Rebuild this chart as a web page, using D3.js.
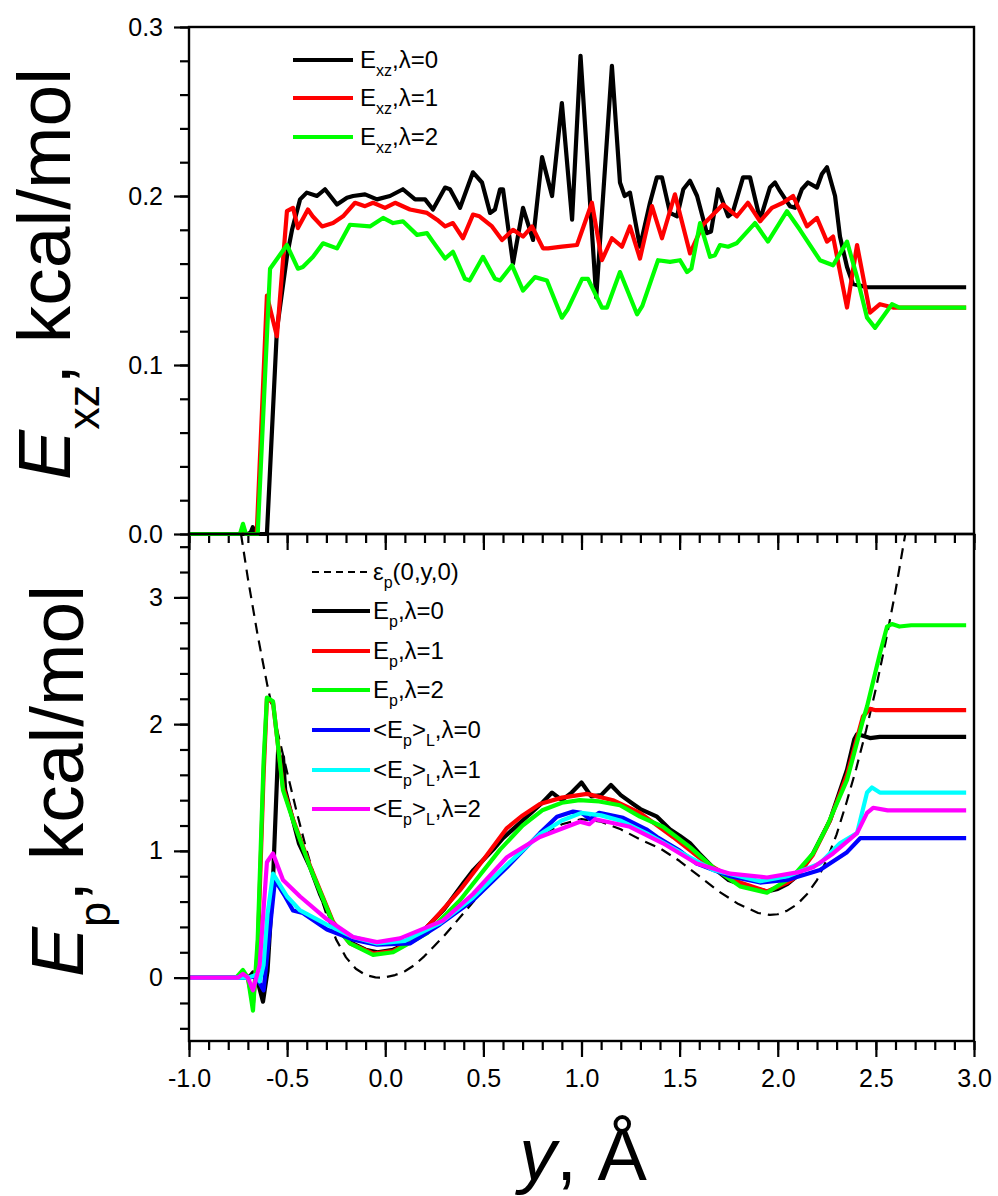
<!DOCTYPE html>
<html>
<head>
<meta charset="utf-8">
<script src="https://cdn.jsdelivr.net/npm/d3@7"></script>
<style>
  html, body { margin: 0; padding: 0; background: #fff; }
  svg { display: block; font-family: "Liberation Sans", Arial, sans-serif; }
</style>
</head>
<body>
<svg id="chart" width="998" height="1196"></svg>
<script>
// ---- Upper panel: E_xz(y) for three lambda values, [y, value] pairs ----
const exzLambda0 = [[-1,0],[-0.7,0],[-0.685,0.001],[-0.675,0.004],[-0.665,0],[-0.603,0],[-0.552,0.121],[-0.5,0.165],[-0.475,0.18],[-0.434,0.198],[-0.40,0.202],[-0.348,0.2],[-0.307,0.204],[-0.246,0.195],[-0.195,0.199],[-0.164,0.2],[-0.103,0.201],[-0.042,0.198],[0.024,0.2],[0.09,0.204],[0.152,0.198],[0.203,0.198],[0.243,0.192],[0.305,0.205],[0.33,0.204],[0.381,0.193],[0.447,0.214],[0.493,0.208],[0.534,0.19],[0.559,0.192],[0.585,0.204],[0.6,0.204],[0.651,0.16],[0.702,0.193],[0.753,0.174],[0.799,0.223],[0.85,0.2],[0.9,0.255],[0.952,0.186],[0.995,0.283],[1.075,0.14],[1.155,0.277],[1.196,0.208],[1.22,0.2],[1.247,0.202],[1.298,0.17],[1.349,0.196],[1.384,0.211],[1.41,0.211],[1.451,0.19],[1.487,0.188],[1.519,0.204],[1.553,0.209],[1.589,0.2],[1.639,0.178],[1.66,0.179],[1.696,0.204],[1.747,0.188],[1.77,0.19],[1.823,0.211],[1.859,0.211],[1.91,0.186],[1.96,0.205],[1.986,0.208],[2.011,0.203],[2.062,0.194],[2.088,0.193],[2.123,0.204],[2.154,0.208],[2.2,0.205],[2.225,0.213],[2.251,0.217],[2.292,0.2],[2.317,0.176],[2.353,0.158],[2.383,0.148],[2.455,0.146],[2.96,0.146]];
const exzLambda1 = [[-1,0],[-0.74,0],[-0.725,0.004],[-0.71,0],[-0.655,0],[-0.603,0.141],[-0.552,0.117],[-0.501,0.191],[-0.47,0.193],[-0.445,0.181],[-0.394,0.192],[-0.37,0.188],[-0.322,0.182],[-0.266,0.184],[-0.215,0.188],[-0.154,0.196],[-0.103,0.194],[-0.062,0.196],[-0.001,0.193],[0.05,0.196],[0.126,0.192],[0.213,0.19],[0.264,0.186],[0.305,0.182],[0.345,0.184],[0.396,0.175],[0.447,0.189],[0.48,0.188],[0.544,0.182],[0.595,0.174],[0.651,0.18],[0.702,0.176],[0.748,0.182],[0.804,0.169],[0.83,0.169],[0.9,0.17],[0.977,0.171],[1.053,0.196],[1.104,0.162],[1.155,0.175],[1.206,0.17],[1.247,0.182],[1.298,0.163],[1.359,0.194],[1.41,0.175],[1.476,0.201],[1.553,0.166],[1.619,0.183],[1.721,0.195],[1.792,0.188],[1.848,0.196],[1.91,0.185],[1.97,0.193],[2.027,0.196],[2.078,0.2],[2.149,0.182],[2.2,0.187],[2.251,0.173],[2.282,0.176],[2.353,0.134],[2.404,0.171],[2.47,0.131],[2.521,0.136],[2.587,0.134],[2.96,0.134]];
const exzLambda2 = [[-1,0],[-0.74,0],[-0.725,0.006],[-0.71,0],[-0.65,0],[-0.587,0.157],[-0.501,0.171],[-0.445,0.157],[-0.42,0.158],[-0.368,0.164],[-0.317,0.172],[-0.246,0.169],[-0.18,0.183],[-0.078,0.182],[-0.011,0.187],[0.04,0.184],[0.09,0.185],[0.162,0.177],[0.213,0.178],[0.243,0.173],[0.305,0.163],[0.345,0.167],[0.406,0.151],[0.43,0.15],[0.498,0.164],[0.559,0.151],[0.585,0.15],[0.646,0.159],[0.702,0.144],[0.763,0.152],[0.824,0.15],[0.9,0.128],[0.93,0.133],[1.003,0.151],[1.033,0.151],[1.104,0.134],[1.13,0.134],[1.196,0.155],[1.283,0.13],[1.31,0.135],[1.39,0.162],[1.451,0.161],[1.502,0.162],[1.538,0.155],[1.56,0.157],[1.604,0.184],[1.655,0.164],[1.68,0.165],[1.706,0.171],[1.747,0.17],[1.79,0.172],[1.884,0.184],[1.95,0.173],[2.047,0.191],[2.113,0.18],[2.215,0.162],[2.282,0.159],[2.353,0.173],[2.404,0.152],[2.455,0.128],[2.496,0.122],[2.582,0.136],[2.62,0.134],[2.96,0.134]];

// ---- Lower panel: potential profile and E_p curves, [y, value] pairs ----
const potentialProfile = [[-0.735,3.5],[-0.7,3.15],[-0.65,2.7],[-0.6,2.3],[-0.55,1.95],[-0.5,1.62],[-0.45,1.3],[-0.4,1.0],[-0.35,0.74],[-0.3,0.5],[-0.25,0.3],[-0.2,0.16],[-0.15,0.07],[-0.1,0.02],[-0.05,0.002],[-0.02,0],[0.0,0.003],[0.05,0.02],[0.1,0.05],[0.15,0.1],[0.2,0.17],[0.25,0.25],[0.3,0.33],[0.35,0.42],[0.4,0.51],[0.5,0.69],[0.6,0.86],[0.7,1.01],[0.8,1.13],[0.9,1.21],[1.0,1.25],[1.1,1.23],[1.2,1.17],[1.3,1.09],[1.4,1.02],[1.5,0.92],[1.6,0.8],[1.7,0.68],[1.8,0.58],[1.9,0.51],[1.96,0.495],[2.0,0.5],[2.05,0.53],[2.1,0.58],[2.15,0.66],[2.2,0.77],[2.25,0.93],[2.3,1.13],[2.35,1.38],[2.4,1.65],[2.45,1.95],[2.5,2.28],[2.55,2.65],[2.6,3.05],[2.65,3.5]];
const epLambda0 = [[-1,0],[-0.72,0],[-0.69,0.01],[-0.674,0.04],[-0.655,0],[-0.623,-0.19],[-0.6,0.05],[-0.572,0.77],[-0.546,1.79],[-0.535,1.72],[-0.521,1.74],[-0.51,1.48],[-0.47,1.24],[-0.44,1.06],[-0.383,0.87],[-0.33,0.65],[-0.266,0.43],[-0.18,0.28],[-0.1,0.22],[-0.04,0.2],[0.04,0.22],[0.1,0.26],[0.2,0.38],[0.3,0.54],[0.4,0.75],[0.45,0.85],[0.5,0.93],[0.55,1.01],[0.6,1.1],[0.65,1.17],[0.7,1.24],[0.75,1.31],[0.8,1.38],[0.85,1.46],[0.9,1.4],[0.95,1.46],[1.0,1.54],[1.05,1.43],[1.1,1.44],[1.15,1.52],[1.2,1.44],[1.263,1.37],[1.3,1.33],[1.385,1.27],[1.45,1.17],[1.5,1.12],[1.553,1.06],[1.6,0.98],[1.67,0.87],[1.75,0.77],[1.84,0.72],[1.945,0.68],[2.0,0.7],[2.05,0.74],[2.098,0.8],[2.18,0.98],[2.266,1.24],[2.353,1.64],[2.39,1.88],[2.404,1.92],[2.43,1.91],[2.47,1.89],[2.52,1.9],[2.96,1.9]];
const epLambda1 = [[-1,0],[-0.74,0],[-0.725,0.04],[-0.7,0],[-0.674,-0.2],[-0.65,0.2],[-0.62,1.6],[-0.603,2.2],[-0.572,2.17],[-0.521,1.5],[-0.47,1.25],[-0.383,0.88],[-0.266,0.44],[-0.18,0.27],[-0.062,0.19],[0.04,0.21],[0.1,0.26],[0.213,0.4],[0.279,0.51],[0.381,0.69],[0.5,0.93],[0.62,1.18],[0.7,1.28],[0.788,1.37],[0.9,1.42],[1.028,1.45],[1.16,1.4],[1.298,1.3],[1.466,1.11],[1.639,0.9],[1.808,0.75],[1.945,0.68],[2.05,0.75],[2.098,0.8],[2.18,0.97],[2.266,1.24],[2.353,1.6],[2.434,2.06],[2.47,2.12],[2.5,2.11],[2.96,2.11]];
const epLambda2 = [[-1,0],[-0.76,0],[-0.725,0.06],[-0.7,0],[-0.674,-0.26],[-0.65,0.3],[-0.62,1.7],[-0.603,2.21],[-0.572,2.18],[-0.521,1.48],[-0.47,1.24],[-0.383,0.87],[-0.266,0.43],[-0.18,0.27],[-0.062,0.18],[0.04,0.2],[0.213,0.35],[0.381,0.61],[0.585,1.01],[0.7,1.2],[0.8,1.32],[0.9,1.38],[0.99,1.4],[1.09,1.39],[1.196,1.36],[1.298,1.27],[1.415,1.19],[1.553,1.03],[1.67,0.87],[1.808,0.72],[1.945,0.67],[2.078,0.8],[2.18,0.98],[2.25,1.19],[2.353,1.56],[2.434,2.03],[2.455,2.14],[2.521,2.56],[2.557,2.77],[2.582,2.79],[2.62,2.77],[2.68,2.78],[2.96,2.78]];
const epAvgLambda0 = [[-1,0],[-0.7,0],[-0.66,0.01],[-0.638,-0.05],[-0.62,-0.1],[-0.6,0.2],[-0.562,0.77],[-0.51,0.64],[-0.47,0.53],[-0.42,0.51],[-0.297,0.38],[-0.164,0.3],[-0.042,0.26],[0.126,0.27],[0.279,0.42],[0.447,0.61],[0.62,0.87],[0.788,1.14],[0.875,1.27],[0.957,1.31],[1.0,1.3],[1.043,1.25],[1.09,1.3],[1.212,1.26],[1.33,1.17],[1.385,1.11],[1.502,1.0],[1.587,0.9],[1.757,0.8],[1.91,0.75],[2.047,0.77],[2.215,0.85],[2.353,0.99],[2.42,1.1],[2.96,1.1]];
const epAvgLambda1 = [[-1,0],[-0.7,0],[-0.66,0.02],[-0.64,-0.03],[-0.62,0.1],[-0.6,0.5],[-0.572,0.82],[-0.5,0.64],[-0.434,0.53],[-0.3,0.42],[-0.164,0.32],[-0.042,0.27],[0.1,0.29],[0.279,0.43],[0.447,0.63],[0.62,0.89],[0.788,1.13],[0.9,1.24],[1.0,1.3],[1.1,1.28],[1.196,1.24],[1.33,1.14],[1.502,0.99],[1.67,0.85],[1.91,0.76],[2.05,0.8],[2.215,0.9],[2.317,1.06],[2.404,1.14],[2.455,1.46],[2.48,1.5],[2.52,1.46],[2.96,1.46]];
const epAvgLambda2 = [[-1,0],[-0.75,0],[-0.725,0.03],[-0.7,0],[-0.674,-0.1],[-0.64,0.1],[-0.603,0.91],[-0.572,0.98],[-0.521,0.77],[-0.434,0.64],[-0.297,0.46],[-0.164,0.32],[-0.042,0.28],[0.075,0.31],[0.294,0.45],[0.447,0.66],[0.62,0.95],[0.788,1.11],[0.992,1.23],[1.04,1.21],[1.07,1.25],[1.247,1.19],[1.415,1.06],[1.587,0.9],[1.757,0.82],[1.945,0.79],[2.1,0.83],[2.18,0.87],[2.282,0.98],[2.404,1.14],[2.455,1.3],[2.486,1.34],[2.56,1.32],[2.96,1.32]];

// ---- Axis ticks ----
const xMajorTicks = [-1.0, -0.5, 0.0, 0.5, 1.0, 1.5, 2.0, 2.5, 3.0];
const topMajorTicks = [0.0, 0.1, 0.2, 0.3];
const bottomMajorTicks = [0, 1, 2, 3];

// ---- Layout ----
const svg = d3.select("#chart");
const left = 189, right = 974;
const topY0 = 27, topY1 = 534, botY0 = 534, botY1 = 1041;
const FONT = "'Liberation Sans', Arial, sans-serif";
const LINE_W = 4.2;

const x = d3.scaleLinear().domain([-1, 3]).range([left, right]);
const yTop = d3.scaleLinear().domain([0, 0.3]).range([topY1, topY0]);
const yBot = d3.scaleLinear().domain([-0.5, 3.5]).range([botY1, botY0]);

const defs = svg.append("defs");
defs.append("clipPath").attr("id", "clipTop").append("rect")
  .attr("x", left).attr("y", topY0 - 2).attr("width", right - left).attr("height", topY1 - topY0 + 4);
defs.append("clipPath").attr("id", "clipBot").append("rect")
  .attr("x", left).attr("y", botY0).attr("width", right - left).attr("height", botY1 - botY0);

function range(a, b, step) {
  const out = [];
  for (let v = a; v <= b + 1e-9; v += step) out.push(+v.toFixed(4));
  return out;
}

function styleAxis(g) {
  g.select(".domain").remove();
  g.selectAll("line").attr("stroke", "#000").attr("stroke-width", 2.2);
  g.selectAll("text").attr("font-family", FONT).attr("font-size", 25).attr("fill", "#000");
}

// x axes: under the upper panel (no labels) and under the lower panel (labelled)
function xAxes(yPos, labelled) {
  svg.append("g").attr("transform", `translate(0,${yPos})`)
    .call(d3.axisBottom(x).tickValues(range(-1, 3, 0.1)).tickSize(9).tickFormat(""))
    .call(styleAxis);
  svg.append("g").attr("transform", `translate(0,${yPos})`)
    .call(d3.axisBottom(x).tickValues(xMajorTicks).tickSize(16).tickPadding(12)
      .tickFormat(labelled ? d3.format(".1f") : ""))
    .call(styleAxis)
    .selectAll("text").text(d => labelled ? d3.format(".1f")(d).replace("−", "-") : "");
}
xAxes(topY1, false);
xAxes(botY1, true);

// y axes
svg.append("g").attr("transform", `translate(${left},0)`)
  .call(d3.axisLeft(yTop).tickValues(range(0, 0.3, 0.02)).tickSize(9).tickFormat(""))
  .call(styleAxis);
svg.append("g").attr("transform", `translate(${left},0)`)
  .call(d3.axisLeft(yTop).tickValues(topMajorTicks).tickSize(15).tickPadding(11).tickFormat(d3.format(".1f")))
  .call(styleAxis);
svg.append("g").attr("transform", `translate(${left},0)`)
  .call(d3.axisLeft(yBot).tickValues(range(-0.4, 3.4, 0.2)).tickSize(9).tickFormat(""))
  .call(styleAxis);
svg.append("g").attr("transform", `translate(${left},0)`)
  .call(d3.axisLeft(yBot).tickValues(bottomMajorTicks).tickSize(15).tickPadding(11).tickFormat(d3.format("d")))
  .call(styleAxis);

// ---- Data lines ----
function drawLine(data, yScale, clip, color, width, dash) {
  const line = d3.line().x(d => x(d[0])).y(d => yScale(d[1]));
  const p = svg.append("path").datum(data)
    .attr("clip-path", `url(#${clip})`)
    .attr("fill", "none").attr("stroke", color).attr("stroke-width", width)
    .attr("stroke-linejoin", "round").attr("stroke-linecap", "butt")
    .attr("d", line);
  if (dash) p.attr("stroke-dasharray", dash);
}

drawLine(exzLambda0, yTop, "clipTop", "#000000", LINE_W);
drawLine(exzLambda1, yTop, "clipTop", "#ff0000", LINE_W);
drawLine(exzLambda2, yTop, "clipTop", "#00ff00", LINE_W);

drawLine(potentialProfile, yBot, "clipBot", "#000000", 2.2, "11,7");
drawLine(epLambda0, yBot, "clipBot", "#000000", LINE_W);
drawLine(epLambda1, yBot, "clipBot", "#ff0000", LINE_W);
drawLine(epLambda2, yBot, "clipBot", "#00ff00", LINE_W);
drawLine(epAvgLambda0, yBot, "clipBot", "#0000ff", LINE_W);
drawLine(epAvgLambda1, yBot, "clipBot", "#00ffff", LINE_W);
drawLine(epAvgLambda2, yBot, "clipBot", "#ff00ff", LINE_W);

// ---- Panel frames ----
svg.append("rect").attr("x", left).attr("y", topY0).attr("width", right - left).attr("height", topY1 - topY0)
  .attr("fill", "none").attr("stroke", "#000").attr("stroke-width", 2.4);
svg.append("rect").attr("x", left).attr("y", botY0).attr("width", right - left).attr("height", botY1 - botY0)
  .attr("fill", "none").attr("stroke", "#000").attr("stroke-width", 2.4);

// ---- Rich text with subscripts ----
function richText(g, parts, size, subSize, shift) {
  const t = g.append("text").attr("font-family", FONT).attr("font-size", size).attr("fill", "#000");
  let cur = 0;
  parts.forEach(p => {
    const want = p.sub ? shift : 0;
    const ts = t.append("tspan").text(p.t).attr("dy", want - cur);
    if (p.sub) ts.attr("font-size", subSize);
    if (p.italic) ts.attr("font-style", "italic");
    cur = want;
  });
  return t;
}

// Legends
const topLegend = [
  { color: "#000000", parts: [{t: "E"}, {t: "xz", sub: true}, {t: ",λ=0"}] },
  { color: "#ff0000", parts: [{t: "E"}, {t: "xz", sub: true}, {t: ",λ=1"}] },
  { color: "#00ff00", parts: [{t: "E"}, {t: "xz", sub: true}, {t: ",λ=2"}] }
];
const topRows = [60, 98, 137];
topLegend.forEach((it, i) => {
  const yy = topRows[i];
  svg.append("line").attr("x1", 293).attr("x2", 353).attr("y1", yy).attr("y2", yy)
    .attr("stroke", it.color).attr("stroke-width", LINE_W);
  const g = svg.append("g").attr("transform", `translate(360,${yy + 8})`);
  richText(g, it.parts, 24, 16, 8);
});

const botLegend = [
  { color: "#000000", dash: "7,5", w: 2.2, parts: [{t: "ε"}, {t: "p", sub: true}, {t: "(0,y,0)"}] },
  { color: "#000000", parts: [{t: "E"}, {t: "p", sub: true}, {t: ",λ=0"}] },
  { color: "#ff0000", parts: [{t: "E"}, {t: "p", sub: true}, {t: ",λ=1"}] },
  { color: "#00ff00", parts: [{t: "E"}, {t: "p", sub: true}, {t: ",λ=2"}] },
  { color: "#0000ff", parts: [{t: "<E"}, {t: "p", sub: true}, {t: ">"}, {t: "L", sub: true}, {t: ",λ=0"}] },
  { color: "#00ffff", parts: [{t: "<E"}, {t: "p", sub: true}, {t: ">"}, {t: "L", sub: true}, {t: ",λ=1"}] },
  { color: "#ff00ff", parts: [{t: "<E"}, {t: "p", sub: true}, {t: ">"}, {t: "L", sub: true}, {t: ",λ=2"}] }
];
const botRows = [572, 611, 651, 690, 730, 770, 809];
botLegend.forEach((it, i) => {
  const yy = botRows[i];
  const ln = svg.append("line").attr("x1", 312).attr("x2", 370).attr("y1", yy).attr("y2", yy)
    .attr("stroke", it.color).attr("stroke-width", it.w || LINE_W);
  if (it.dash) ln.attr("stroke-dasharray", it.dash);
  const g = svg.append("g").attr("transform", `translate(373,${yy + 8})`);
  richText(g, it.parts, 24, 16, 8);
});

// ---- Axis titles ----
const topTitle = svg.append("g").attr("transform", `translate(70,274) rotate(-90)`);
richText(topTitle, [{t: "E", italic: true}, {t: "xz", sub: true}, {t: ", kcal/mol"}], 75, 45, 29)
  .attr("text-anchor", "middle");
const botTitle = svg.append("g").attr("transform", `translate(83,781) rotate(-90)`);
richText(botTitle, [{t: "E", italic: true}, {t: "p", sub: true}, {t: ", kcal/mol"}], 75, 45, 27)
  .attr("text-anchor", "middle");
const xTitle = svg.append("g").attr("transform", `translate(583,1180)`);
richText(xTitle, [{t: "y", italic: true}, {t: ", Å"}], 74, 40, 0).attr("text-anchor", "middle");
</script>
</body>
</html>
